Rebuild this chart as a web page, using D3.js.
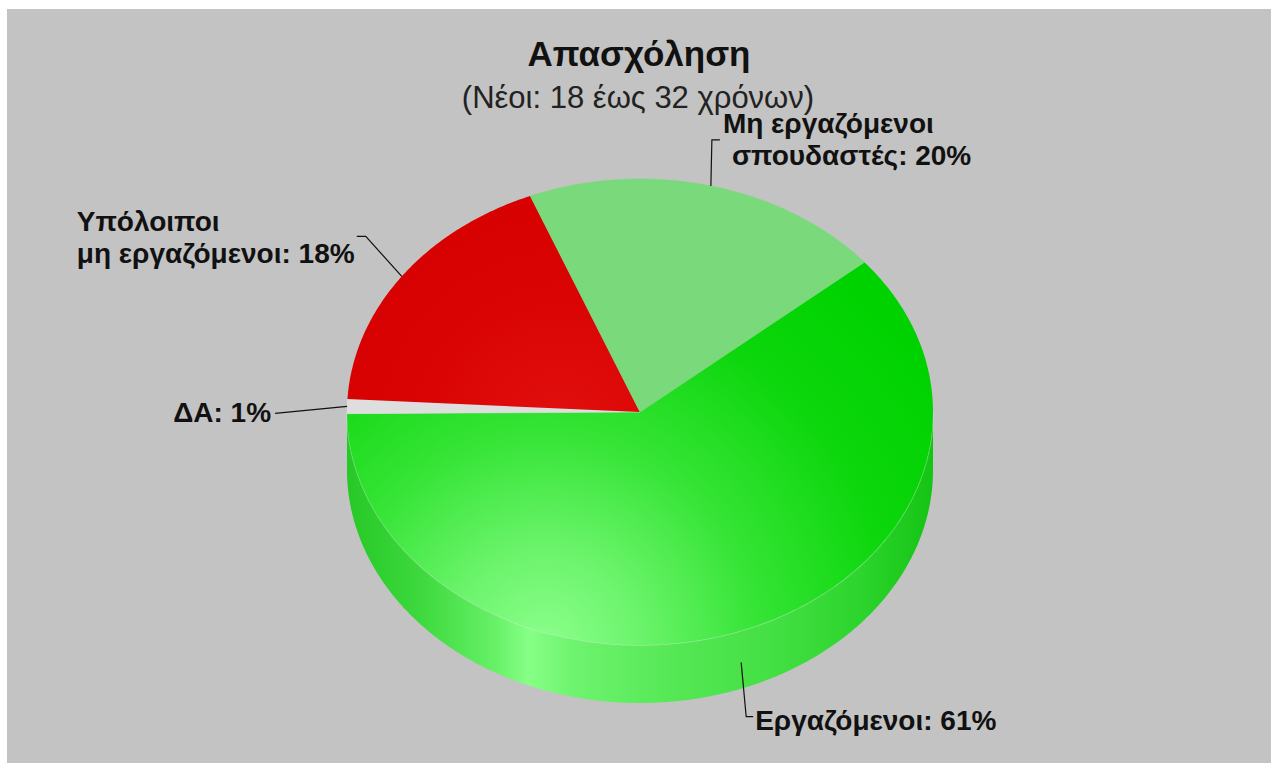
<!DOCTYPE html>
<html><head><meta charset="utf-8">
<script src="https://cdn.jsdelivr.net/npm/d3@7"></script>
<style>body{margin:0;background:#fff;overflow:hidden} svg{display:block}</style>
</head><body>
<script>
// ---- data ----
const categories = ["Εργαζόμενοι", "ΔΑ", "Υπόλοιποι μη εργαζόμενοι", "Μη εργαζόμενοι σπουδαστές"];
const values = [61, 1, 18, 20];
const labelLines = [["Εργαζόμενοι: 61%"], ["ΔΑ: 1%"], ["Υπόλοιποι", "μη εργαζόμενοι: 18%"], ["Μη εργαζόμενοι", "σπουδαστές: 20%"]];
const titleText = "Απασχόληση";
const subtitleText = "(Νέοι: 18 έως 32 χρόνων)";

// ---- layout / style ----
const W = 1271, H = 763;
const cx = 640, cy = 412, rx = 293, ry = 233, depth = 58;
const topColors = ["url(#gTop)", "#dedede", "url(#rTop)", "#7ad97a"];
const sideColors = ["url(#gSide)", "#c8c8c8", "#b00000", "#60c060"];
const font = "'Liberation Sans', Arial, sans-serif";

const svg = d3.select("body").append("svg").attr("width", W).attr("height", H);
const defs = svg.append("defs");

const rg = defs.append("radialGradient").attr("id", "gTop").attr("gradientUnits", "userSpaceOnUse")
  .attr("cx", 545).attr("cy", 645).attr("r", 470);
[[0, "#8cff8c"], [0.2, "#6cf46c"], [0.45, "#36e436"], [0.75, "#0cd60c"], [1, "#00d200"]]
  .forEach(([o, c]) => rg.append("stop").attr("offset", o).attr("stop-color", c));

const rr = defs.append("radialGradient").attr("id", "rTop").attr("gradientUnits", "userSpaceOnUse")
  .attr("cx", 560).attr("cy", 430).attr("r", 260);
[[0, "#e21010"], [0.5, "#da0404"], [1, "#d60000"]]
  .forEach(([o, c]) => rr.append("stop").attr("offset", o).attr("stop-color", c));

const lg = defs.append("linearGradient").attr("id", "gSide").attr("gradientUnits", "userSpaceOnUse")
  .attr("x1", cx - rx).attr("x2", cx + rx).attr("y1", 0).attr("y2", 0);
[[0, "#26c826"], [0.12, "#3cd83c"], [0.25, "#66f066"], [0.31, "#86ff86"], [0.38, "#70f470"],
 [0.55, "#56e856"], [0.72, "#44e044"], [0.88, "#2cd42c"], [1, "#14c414"]]
  .forEach(([o, c]) => lg.append("stop").attr("offset", o).attr("stop-color", c));

// background
svg.append("rect").attr("x", 7).attr("y", 9).attr("width", W - 7).attr("height", H - 9).attr("fill", "#c3c3c3");

// pie angles from d3
const start = 50 * Math.PI / 180;
const pie = d3.pie().sort(null).startAngle(start).endAngle(start + 2 * Math.PI);
const arcs = pie(values);

const pt = (a, dy = 0) => [cx + rx * Math.sin(a), cy - ry * Math.cos(a) + dy];
const samples = (a0, a1) => {
  const n = Math.max(2, Math.ceil(Math.abs(a1 - a0) / 0.01));
  return d3.range(n + 1).map(i => a0 + (a1 - a0) * i / n);
};
const line = d3.line();

// sides (front half only)
const sideG = svg.append("g");
arcs.forEach((d, i) => {
  [[Math.PI / 2, 3 * Math.PI / 2], [Math.PI / 2 + 2 * Math.PI, 3 * Math.PI / 2 + 2 * Math.PI]].forEach(([f0, f1]) => {
    const s = Math.max(d.startAngle, f0), e = Math.min(d.endAngle, f1);
    if (e > s) {
      const top = samples(s, e).map(a => pt(a));
      const bot = samples(e, s).map(a => pt(a, depth));
      sideG.append("path").attr("d", line(top.concat(bot)) + "Z").attr("fill", sideColors[i]);
      sideG.append("path").attr("d", line(top)).attr("fill", "none")
        .attr("stroke", "rgba(255,255,255,0.3)").attr("stroke-width", 1.5);
    }
  });
});

// top faces
const topG = svg.append("g");
arcs.forEach((d, i) => {
  const pts = [[cx, cy]].concat(samples(d.startAngle, d.endAngle).map(a => pt(a)));
  topG.append("path").attr("d", line(pts) + "Z").attr("fill", topColors[i])
    .attr("stroke", topColors[i].startsWith("url") ? "none" : topColors[i]).attr("stroke-width", 0.5);
});

// title
svg.append("text").attr("x", cx - 1).attr("y", 66).attr("text-anchor", "middle")
  .style("font-family", font).style("font-size", "35px").style("font-weight", "bold").attr("fill", "#111").text(titleText);
svg.append("text").attr("x", cx - 2).attr("y", 108).attr("text-anchor", "middle")
  .style("font-family", font).style("font-size", "31px").attr("fill", "#222").text(subtitleText);

// labels: leader from slice anchor to elbow to end; text lines
const labelLayout = [
  { elbow: [5, 54], end: [12, 54], lines: [[14, 67]], anchor: "start" },
  { elbow: null, end: [-72, 7], lines: [[-76, 16]], anchor: "end" },
  { elbow: [-36, -40], end: [-45, -40], lines: [[-325, -45], [-325, -13]], anchor: "start" },
  { elbow: [1, -46], end: [9, -46], lines: [[12, -53], [21, -21]], anchor: "start" }
];
const lab = svg.append("g");
arcs.forEach((d, i) => {
  const m = (d.startAngle + d.endAngle) / 2;
  const front = Math.cos(m) < 0;
  const a = pt(m, front ? depth * 0.55 : 0);
  const L = labelLayout[i];
  const p = [a];
  if (L.elbow) p.push([a[0] + L.elbow[0], a[1] + L.elbow[1]]);
  p.push([a[0] + L.end[0], a[1] + L.end[1]]);
  lab.append("path").attr("d", line(p)).attr("fill", "none").attr("stroke", "#111").attr("stroke-width", 1.2);
  labelLines[i].forEach((t, j) => {
    lab.append("text").attr("x", a[0] + L.lines[j][0]).attr("y", a[1] + L.lines[j][1])
      .attr("text-anchor", L.anchor)
      .style("font-family", font).style("font-size", "28px").style("font-weight", "bold").attr("fill", "#111").text(t);
  });
});
</script>
</body></html>
